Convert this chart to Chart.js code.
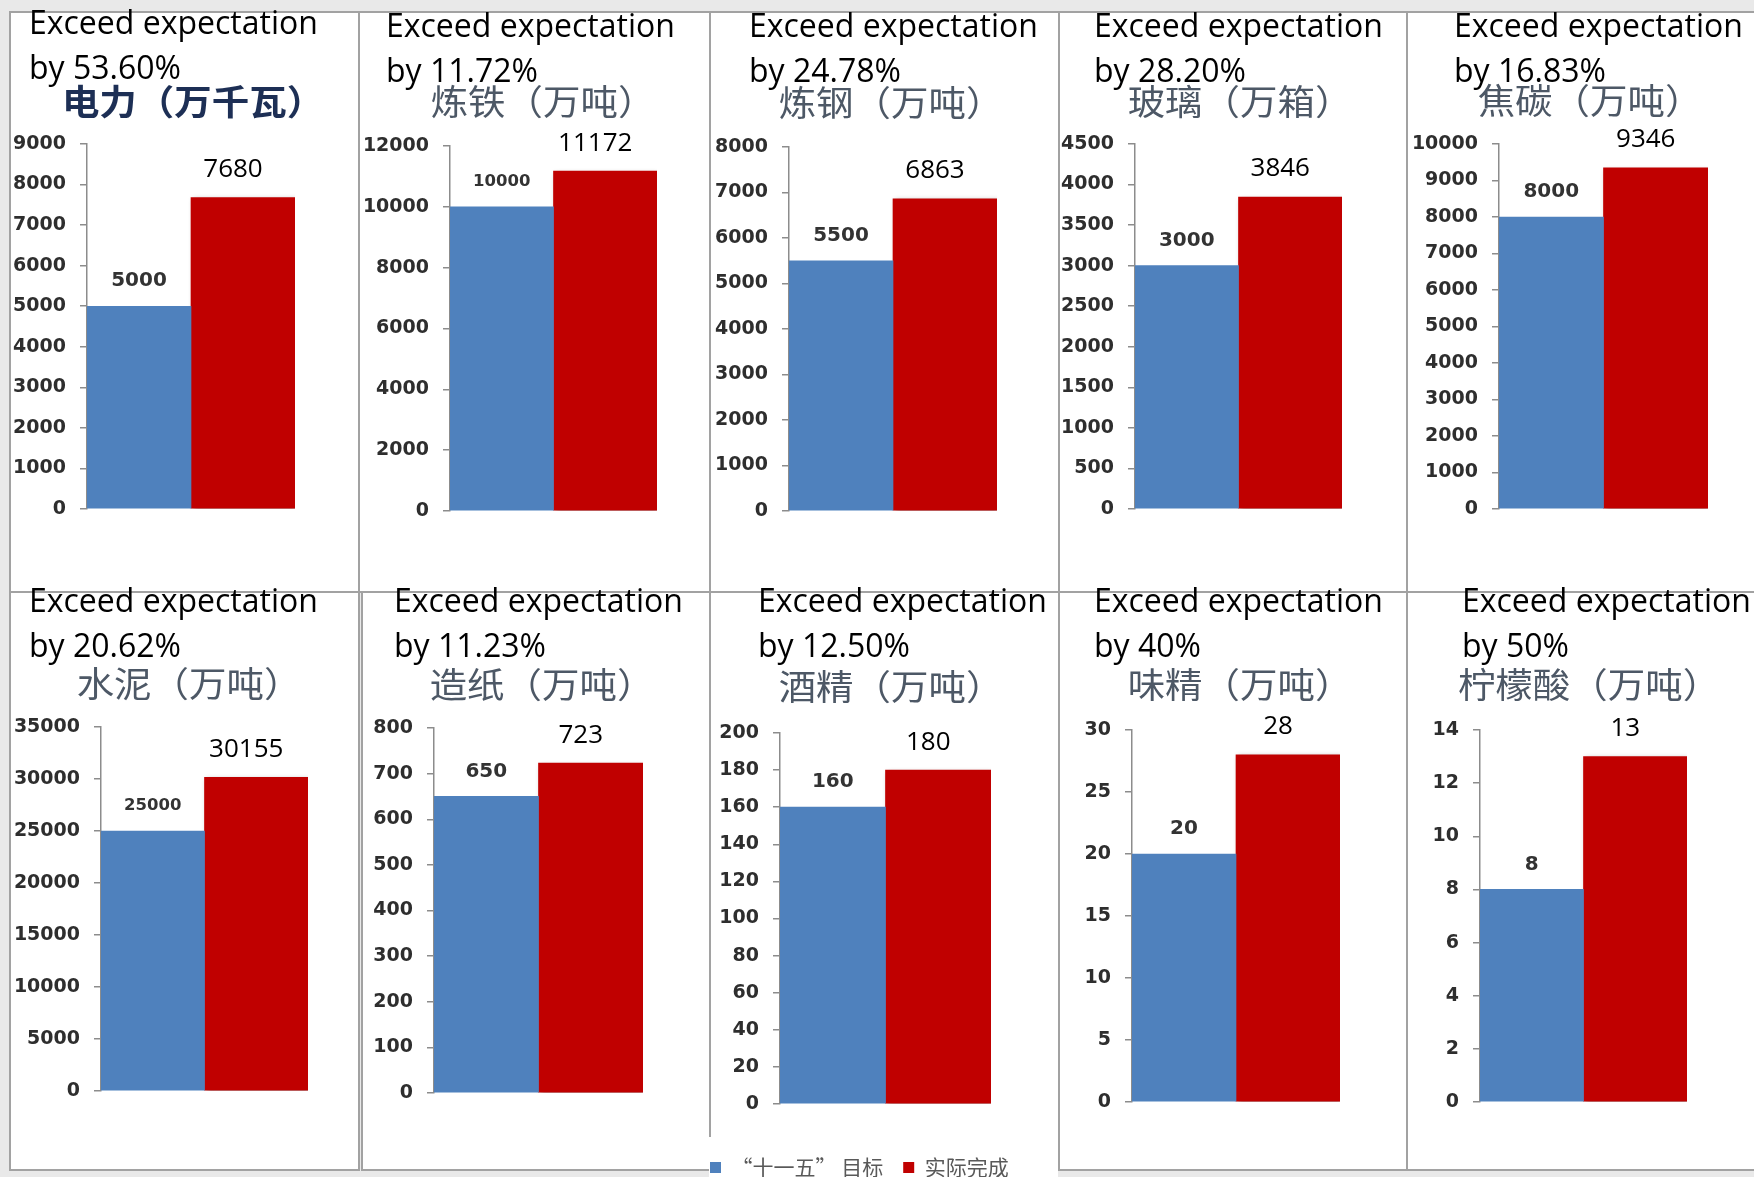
<!DOCTYPE html>
<html lang="zh-CN">
<head>
<meta charset="UTF-8">
<title>“十一五”主要产品产量目标与实际完成</title>
<script src="https://cdn.jsdelivr.net/npm/chart.js"></script>
<style>
  html, body { margin: 0; padding: 0; }
  body {
    width: 1754px; height: 1177px; overflow: hidden; position: relative;
    background: #e9e9e9;
  }
  .frame { position: absolute; background: #fff; border: 2px solid #a2a2a2; box-sizing: border-box; }
  .blank { position: absolute; background: #fff; }
  .plot { position: absolute; }
  .note {
    position: absolute; white-space: nowrap; color: #000;
    font-family: "Open Sans", sans-serif; font-size: 32px; line-height: 45px;
  }
</style>
</head>
<body>
<script>
// 产品与单位
const products = ['电力（万千瓦）', '炼铁（万吨）', '炼钢（万吨）', '玻璃（万箱）', '焦碳（万吨）',
                  '水泥（万吨）', '造纸（万吨）', '酒精（万吨）', '味精（万吨）', '柠檬酸（万吨）'];
// 超额完成比例
const exceedRates = ['53.60%', '11.72%', '24.78%', '28.20%', '16.83%',
                     '20.62%', '11.23%', '12.50%', '40%', '50%'];
const seriesNames = ['“十一五” 目标', '实际完成'];
const targetValues = [5000, 10000, 5500, 3000, 8000, 25000, 650, 160, 20, 8];
const actualValues = [7680, 11172, 6863, 3846, 9346, 30155, 723, 180, 28, 13];
// 纵轴刻度
const axisMax  = [9000, 12000, 8000, 4500, 10000, 35000, 800, 200, 30, 14];
const axisStep = [1000, 2000, 1000, 500, 1000, 5000, 100, 20, 5, 2];

// 版面：边框 [left, top, width, height]，绘图区 [left, top, right, bottom]
const frames = [
  [9, 11, 351, 582], [358, 11, 353, 582], [709, 11, 351, 582], [1058, 11, 350, 582], [1406, 11, 352, 582],
  [9, 591, 351, 580], [361, 591, 350, 580], [709, 591, 351, 546], [1058, 591, 350, 580], [1406, 591, 352, 580]
];
const plotBoxes = [
  [87, 144, 295, 509], [450, 146, 657, 511], [789, 147, 997, 511], [1135, 144, 1342, 509], [1499, 144, 1708, 509],
  [101, 727, 308, 1091], [434, 728, 643, 1093], [780, 733, 991, 1104], [1132, 730, 1340, 1102], [1480, 730, 1687, 1102]
];
const headingPos = [[193, 102], [543, 102], [891, 103], [1240, 102], [1590, 101],
                    [189, 684], [542, 685], [891, 687], [1240, 685], [1589, 685]];
const notePos = [[29, -1], [386, 2], [749, 2], [1094, 2], [1454, 2],
                 [29, 577], [394, 577], [758, 577], [1094, 577], [1462, 577]];
const legendPanel = 7;

const BLUE = '#4F81BD';
const RED = '#C00000';

// 红色柱子的阴影
const barShadow = {
  id: 'barShadow',
  beforeDatasetDraw(chart, args) {
    if (args.index !== 1) return;
    const ctx = chart.ctx;
    ctx.save();
    ctx.shadowColor = 'rgba(0,0,0,0.35)';
    ctx.shadowBlur = 5;
    ctx.shadowOffsetX = 2;
    ctx.shadowOffsetY = 2;
  },
  afterDatasetDraw(chart, args) {
    if (args.index !== 1) return;
    chart.ctx.restore();
  }
};

// 柱顶数值
const valueLabels = {
  id: 'valueLabels',
  afterDatasetsDraw(chart) {
    const ctx = chart.ctx;
    chart.data.datasets.forEach((ds, i) => {
      chart.getDatasetMeta(i).data.forEach((bar, j) => {
        const text = String(ds.data[j]);
        ctx.save();
        ctx.textAlign = 'center';
        ctx.textBaseline = 'middle';
        if (i === 0) {
          ctx.font = 'bold ' + (text.length > 4 ? 16.5 : 20) + 'px "DejaVu Sans"';
          ctx.fillStyle = '#333';
          ctx.fillText(text, bar.x, bar.y - 25);
        } else {
          ctx.font = '26px "Open Sans"';
          ctx.fillStyle = '#000';
          ctx.fillText(text, bar.x - 10, bar.y - 28);
        }
        ctx.restore();
      });
    });
  }
};

// 产品名称标题（字形略向横向拉宽）
const heading = {
  id: 'heading',
  afterDraw(chart, args, opts) {
    const ctx = chart.ctx;
    ctx.save();
    ctx.font = opts.font;
    ctx.fillStyle = opts.color;
    ctx.textAlign = 'center';
    ctx.textBaseline = 'middle';
    ctx.translate(opts.x, opts.y);
    ctx.scale(opts.stretch, 1);
    ctx.fillText(opts.text, 0, 0);
    ctx.restore();
  }
};

products.forEach((name, i) => {
  const [fl, ft, fw, fh] = frames[i];
  const withLegend = i === legendPanel;

  const frame = document.createElement('div');
  frame.className = 'frame';
  Object.assign(frame.style, { left: fl + 'px', top: ft + 'px', width: fw + 'px', height: fh + 'px' });
  if (withLegend) frame.style.borderBottom = 'none';
  document.body.appendChild(frame);

  if (withLegend) {
    // 图例下方的白底
    const blank = document.createElement('div');
    blank.className = 'blank';
    Object.assign(blank.style, { left: fl + 'px', top: (ft + fh) + 'px', width: (fw - 2) + 'px', height: '60px' });
    document.body.appendChild(blank);
  }

  // 图例所在的面板画布向左、向右、向下延伸
  const cl = withLegend ? fl - 19 : fl;
  const ct = ft;
  const cw = withLegend ? fw + 110 : fw;
  const ch = withLegend ? 607 : fh;
  const [pl, pt, pr, pb] = plotBoxes[i];
  const xGap = 33, legendH = 51;

  const canvas = document.createElement('canvas');
  canvas.className = 'plot';
  canvas.width = cw;
  canvas.height = ch;
  Object.assign(canvas.style, { left: cl + 'px', top: ct + 'px', width: cw + 'px', height: ch + 'px' });
  document.body.appendChild(canvas);

  new Chart(canvas, {
    type: 'bar',
    data: {
      labels: [''],
      datasets: [
        { label: seriesNames[0], data: [targetValues[i]], backgroundColor: BLUE },
        { label: seriesNames[1], data: [actualValues[i]], backgroundColor: RED }
      ]
    },
    options: {
      responsive: false,
      animation: false,
      devicePixelRatio: 1,
      categoryPercentage: 1,
      barPercentage: 1,
      layout: {
        padding: {
          left: 0,
          right: 0,
          top: pt - ct,
          bottom: withLegend ? (ct + ch) - pb - xGap - legendH : (ct + ch) - pb
        }
      },
      scales: {
        x: withLegend ? {
          display: true,
          ticks: { display: false },
          grid: { display: false },
          border: { display: false },
          afterFit: s => { s.height = xGap; }
        } : { display: false },
        y: {
          min: 0,
          max: axisMax[i],
          ticks: {
            stepSize: axisStep[i],
            padding: 14,
            color: '#2e2e2e',
            font: { family: 'DejaVu Sans', size: 19, weight: 'bold' },
            callback: v => String(v)
          },
          grid: { drawOnChartArea: false, drawTicks: true, tickLength: 7, tickColor: '#8c8c8c', lineWidth: 1.5 },
          border: { display: true, color: '#8c8c8c', width: 1.5 },
          afterFit: s => { s.width = pl - cl; }
        },
        // 右侧留白，不画任何内容
        spacer: {
          type: 'linear',
          position: 'right',
          display: true,
          ticks: { display: false },
          grid: { display: false },
          border: { display: false },
          afterFit: s => { s.width = cl + cw - pr; }
        }
      },
      plugins: {
        legend: {
          display: withLegend,
          position: 'bottom',
          align: 'start',
          labels: {
            boxWidth: 11,
            boxHeight: 11,
            padding: 20,
            color: '#595959',
            font: { family: 'Noto Sans CJK SC', size: 21 }
          }
        },
        tooltip: { enabled: false },
        heading: {
          text: name,
          x: headingPos[i][0] - cl,
          y: headingPos[i][1] - ct,
          stretch: 1.07,
          font: (i === 0 ? 'bold ' : '') + '35px "Noto Sans CJK SC"',
          color: i === 0 ? '#1d2f55' : '#4d5866'
        }
      }
    },
    plugins: [barShadow, valueLabels, heading]
  });

  const note = document.createElement('div');
  note.className = 'note';
  note.style.left = notePos[i][0] + 'px';
  note.style.top = notePos[i][1] + 'px';
  note.innerHTML = 'Exceed expectation<br>by ' + exceedRates[i];
  document.body.appendChild(note);
});
</script>
</body>
</html>
